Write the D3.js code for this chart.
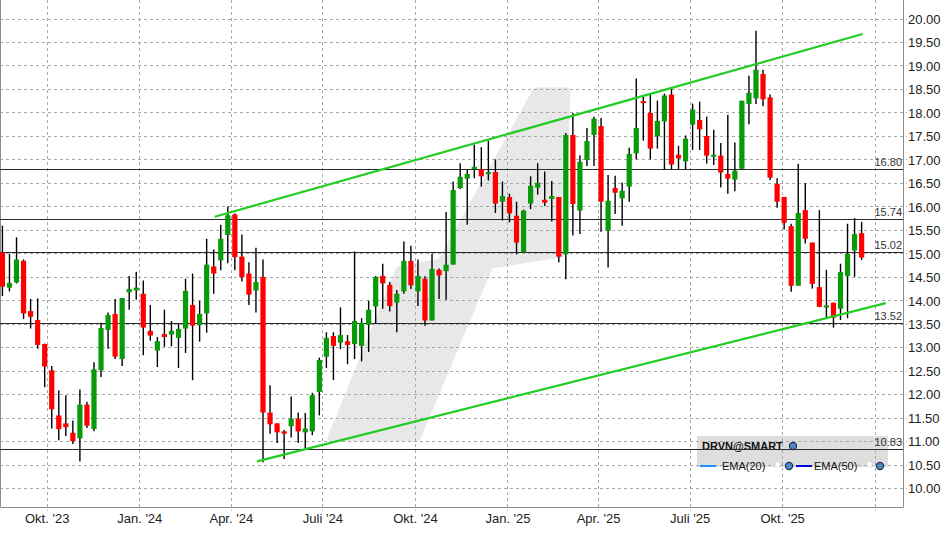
<!DOCTYPE html>
<html><head><meta charset="utf-8">
<script src="https://cdn.jsdelivr.net/npm/d3@7"></script>
<style>
html,body{margin:0;padding:0;background:#fff;}
svg{display:block;font-family:"Liberation Sans",Arial,sans-serif;}
</style></head>
<body>
<svg id="c" width="948" height="534"></svg>
<script>
// ---- data ----
const firstWeek = "2023-08-18";
const open  = [15.02,14.27,14.38,14.84,13.77,13.58,13.07,12.51,11.55,11.38,11.18,11.06,11.78,11.26,12.51,13.37,13.71,12.75,14.17,14.21,14.14,13.35,12.93,13.28,13.27,13.20,13.40,13.90,13.47,13.72,14.72,14.85,15.39,15.83,14.93,14.57,14.21,14.50,11.61,11.38,11.21,11.32,11.48,11.19,11.21,12.05,12.80,13.24,13.10,13.13,13.07,13.03,13.48,13.87,14.52,14.33,13.95,14.19,14.84,14.19,14.46,13.57,14.65,14.62,14.76,16.39,16.59,16.79,16.79,16.70,16.73,16.10,16.20,15.80,15.02,16.06,16.40,16.14,16.16,16.20,14.98,17.52,15.91,16.99,17.52,17.71,15.48,16.39,16.17,16.42,17.13,18.24,17.99,17.49,17.81,18.38,17.10,16.96,17.74,17.84,17.50,17.06,17.08,16.69,16.57,16.80,18.18,18.30,18.82,18.32,16.48,16.20,15.58,14.31,15.92,15.23,14.28,13.86,13.95,13.82,14.52,15.06,15.43];
const high  = [15.59,14.99,15.34,14.87,14.03,14.04,13.08,12.60,12.08,11.98,11.44,12.10,11.84,12.68,13.52,13.74,14.03,14.05,14.52,14.61,14.42,13.90,13.22,13.80,13.56,13.50,14.46,14.57,13.99,15.31,15.08,15.61,16.00,15.85,15.40,14.81,15.12,14.87,12.19,11.38,11.24,11.95,11.61,11.60,12.03,12.78,13.32,13.32,13.85,13.26,15.04,13.62,13.99,14.52,14.78,14.39,14.22,15.25,15.16,14.87,14.51,14.99,14.68,15.88,16.53,16.92,16.78,17.31,17.26,17.40,17.00,16.53,16.27,16.10,15.93,16.64,16.92,16.74,16.54,16.20,17.56,17.99,17.09,17.67,17.91,17.88,16.67,16.65,16.51,17.25,18.72,18.36,18.38,18.25,18.40,18.52,17.29,17.51,18.19,18.23,17.91,17.63,17.35,17.95,17.36,18.25,18.78,19.74,18.91,18.38,16.60,16.20,15.63,16.91,16.50,15.23,15.92,14.65,13.95,14.78,15.63,15.75,15.67];
const low   = [14.09,14.19,14.36,13.60,13.40,12.97,12.15,11.27,11.02,11.11,10.94,10.57,11.28,11.21,12.37,12.97,12.75,12.60,13.80,14.01,12.83,13.14,12.58,13.01,13.02,12.56,12.88,12.30,13.12,13.31,14.14,14.64,14.79,14.64,14.40,13.90,13.74,10.55,11.16,10.96,10.62,11.08,10.96,10.84,11.13,11.55,12.56,12.30,12.96,12.64,12.75,12.70,12.90,13.50,13.82,13.76,13.32,14.14,14.24,13.88,13.46,13.57,14.03,14.01,14.76,16.37,15.61,16.60,16.42,16.55,15.86,15.70,15.66,14.98,15.02,15.94,16.25,16.01,15.68,14.81,14.45,15.38,15.41,16.86,16.86,15.46,14.70,15.84,15.59,16.10,17.00,17.40,17.00,17.23,16.79,16.79,16.79,16.79,17.20,17.20,16.91,16.88,16.40,16.27,16.32,16.80,17.75,18.18,18.13,16.56,15.97,15.51,14.18,14.31,15.21,14.25,13.86,13.62,13.42,13.58,13.62,14.50,14.86];
const close = [14.29,14.37,14.87,13.72,13.65,13.05,12.59,11.68,11.26,11.30,11.00,11.78,11.33,12.53,13.41,13.69,12.80,14.05,14.24,14.27,13.42,13.25,13.13,13.22,13.35,13.39,14.20,13.46,13.71,14.76,14.57,15.31,15.81,14.92,14.49,14.12,14.39,11.61,11.36,11.19,11.16,11.48,11.21,11.27,11.98,12.73,13.20,13.03,13.26,13.05,13.56,13.52,13.80,14.50,14.36,13.88,14.14,14.84,14.32,14.52,13.57,14.67,14.53,14.76,16.35,16.63,16.69,16.84,16.64,16.73,16.06,16.22,15.85,15.23,15.91,16.44,16.50,16.08,16.22,14.93,17.52,16.05,16.95,17.39,17.87,16.10,16.12,16.29,16.33,17.12,17.67,18.21,17.23,17.82,18.36,16.89,17.02,17.44,18.06,17.64,17.08,17.10,16.72,16.59,16.76,18.25,18.42,18.91,18.28,16.61,16.10,15.65,14.31,15.86,15.31,14.35,13.86,13.89,13.63,14.60,14.99,15.41,14.91];

const levelValues = [16.80, 15.74, 15.02, 13.52, 10.83];
const upperChannel = [["2024-03-16", 15.78], ["2025-12-20", 19.67]];
const lowerChannel = [["2024-04-27", 10.57], ["2026-01-12", 13.94]];
const xTickDates  = ["2023-10-01","2024-01-01","2024-04-01","2024-07-01","2024-10-01","2025-01-01","2025-04-01","2025-07-01","2025-10-01","2026-01-01"];
const xTickLabels = ["Okt. '23","Jan. '24","Apr. '24","Juli '24","Okt. '24","Jan. '25","Apr. '25","Juli '25","Okt. '25",""];
const yTickValues = [10,10.5,11,11.5,12,12.5,13,13.5,14,14.5,15,15.5,16,16.5,17,17.5,18,18.5,19,19.5,20];
const legendTitle = "DRVN@SMART";
const legendSeries = ["EMA(20)","EMA(50)"];

// ---- setup ----
const svg = d3.select("#c");
const P = {left:0, right:903, top:0, bottom:507};
const parse = d3.utcParse("%Y-%m-%d");
const x = d3.scaleUtc().domain([parse("2023-10-01"), parse("2026-01-01")]).range([46.7, 874.7]);
const y = d3.scaleLinear().domain([10, 20]).range([488.2, 18.5]);

const start = parse(firstWeek);
const candles = open.map((o,i)=>({date:d3.utcDay.offset(start, 7*i), o, h:high[i], l:low[i], c:close[i]}));

// watermark logo (decorative)
svg.append("path")
  .attr("d","M536,91 L567,91 L561,254 L490,265 L417,438 L331,438 L399,270 L441,262 Z")
  .attr("fill","#e8e8e8").attr("stroke","#e8e8e8").attr("stroke-width",7).attr("stroke-linejoin","round");

// legend box (under grid)
svg.append("rect").attr("x",697).attr("y",436).attr("width",191).attr("height",31).attr("fill","#dedede");

// grid
const grid = svg.append("g").attr("stroke","#a8a8a8").attr("stroke-width",1).attr("stroke-dasharray","3,3");
yTickValues.forEach(v=>{
  const yy = Math.round(y(v))+0.5;
  grid.append("line").attr("x1",P.left).attr("x2",P.right+4).attr("y1",yy).attr("y2",yy);
});
xTickDates.forEach(d=>{
  const xx = Math.round(x(parse(d)))+0.5;
  grid.append("line").attr("x1",xx).attr("x2",xx).attr("y1",P.top).attr("y2",P.bottom+4);
});

// legend content (above grid)
const lg = svg.append("g");
lg.append("text").attr("x",702).attr("y",450).attr("font-size",11).attr("font-weight","bold").attr("fill","#111").text(legendTitle);
function icon(cx,cy){
  lg.append("circle").attr("cx",cx).attr("cy",cy).attr("r",3.6).attr("fill","#4f86c6").attr("stroke","#1d3550").attr("stroke-width",1.2);
}
icon(793,446);
const legColors = ["#1e90ff","#0000dd"];
const legX = [700, 796];
legendSeries.forEach((s,i)=>{
  const x0 = legX[i];
  lg.append("line").attr("x1",x0).attr("x2",x0+16).attr("y1",466).attr("y2",466).attr("stroke",legColors[i]).attr("stroke-width",2);
  lg.append("text").attr("x",x0+(i===0?22:18)).attr("y",470).attr("font-size",11).attr("fill","#111").text(s);
  const sx = i===0 ? 775 : 867;
  lg.append("rect").attr("x",sx).attr("y",462).attr("width",5).attr("height",5).attr("fill","#fff").attr("stroke","#d0d0d0").attr("stroke-width",0.6);
  icon(i===0 ? 789 : 880, 466);
});

// border
svg.append("path").attr("d",`M0.5,0 V${P.bottom+0.5} H${P.right+0.5} V0`).attr("fill","none").attr("stroke","#8c8c8c").attr("stroke-width",1);

// axes
const yAxis = d3.axisRight(y).tickValues(yTickValues).tickFormat(d3.format(".2f")).tickSize(0).tickPadding(5);
svg.append("g").attr("transform",`translate(${P.right},0)`).call(yAxis)
  .call(g=>g.select(".domain").remove())
  .call(g=>g.selectAll("text").attr("font-size",13).attr("fill","#222").attr("font-family","Liberation Sans, Arial, sans-serif").attr("dy","0.36em"));
const xAxis = d3.axisBottom(x).tickValues(xTickDates.map(parse)).tickFormat((d,i)=>xTickLabels[i]).tickSize(0).tickPadding(7);
svg.append("g").attr("transform",`translate(0,${P.bottom})`).call(xAxis)
  .call(g=>g.select(".domain").remove())
  .call(g=>g.selectAll("text").attr("font-size",13).attr("fill","#222").attr("font-family","Liberation Sans, Arial, sans-serif"));

// level lines
const lv = svg.append("g");
levelValues.forEach(v=>{
  const yy = Math.round(y(v))+0.5;
  lv.append("line").attr("x1",0).attr("x2",P.right).attr("y1",yy).attr("y2",yy).attr("stroke","#2a2a2a").attr("stroke-width",1.1);
  lv.append("text").attr("x",P.right-1).attr("y",yy-4).attr("text-anchor","end").attr("font-size",11).attr("fill","#333").text(v.toFixed(2));
});

// candles
const cg = svg.append("g");
cg.selectAll("line.wick").data(candles).join("line").attr("class","wick")
  .attr("x1",d=>x(d.date)).attr("x2",d=>x(d.date))
  .attr("y1",d=>y(d.h)).attr("y2",d=>y(d.l))
  .attr("stroke","#000").attr("stroke-width",1.4);
cg.selectAll("rect.body").data(candles).join("rect").attr("class","body")
  .attr("x",d=>x(d.date)-2.6).attr("width",5.2)
  .attr("y",d=>y(Math.max(d.o,d.c)))
  .attr("height",d=>Math.max(2,Math.abs(y(d.o)-y(d.c))))
  .attr("fill",d=>d.c>=d.o ? "#089a08" : "#ff0000");

// channel lines
const line = d3.line().x(d=>x(parse(d[0]))).y(d=>y(d[1]));
[upperChannel, lowerChannel].forEach(ch=>{
  svg.append("path").attr("d",line(ch)).attr("fill","none").attr("stroke","#22cc22").attr("stroke-width",2.2);
});
</script>
</body></html>
